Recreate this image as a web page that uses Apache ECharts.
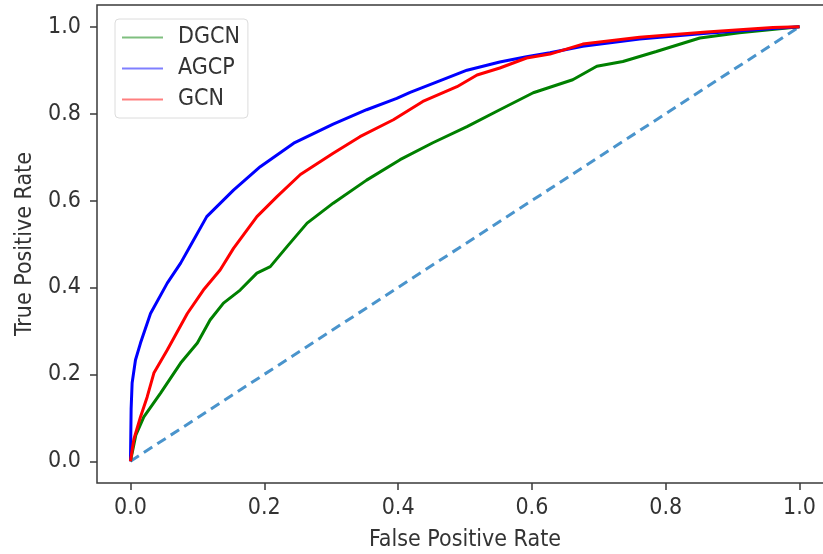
<!DOCTYPE html>
<html>
<head>
<meta charset="utf-8">
<script src="https://cdn.jsdelivr.net/npm/echarts@6/dist/echarts.min.js"></script>
<style>html,body{margin:0;padding:0;background:#fff}#c{width:823px;height:554px}</style>
</head>
<body>
<div id="c"></div>
<script>
const xTicks = [0, 0.2, 0.4, 0.6, 0.8, 1.0];
const yTicks = [0, 0.2, 0.4, 0.6, 0.8, 1.0];
const seriesNames = ['DGCN', 'AGCP', 'GCN'];

const dgcnFpr = [0, 0.008, 0.02, 0.045, 0.075, 0.1, 0.119, 0.139, 0.164, 0.189, 0.209, 0.234, 0.264, 0.303, 0.353, 0.403, 0.452, 0.503, 0.552, 0.602, 0.661, 0.697, 0.736, 0.786, 0.851, 0.91, 1.0];
const dgcnTpr = [0, 0.06, 0.102, 0.157, 0.226, 0.272, 0.325, 0.364, 0.394, 0.433, 0.448, 0.494, 0.548, 0.594, 0.647, 0.694, 0.733, 0.77, 0.809, 0.848, 0.878, 0.909, 0.92, 0.943, 0.974, 0.986, 1.0];

const agcpFpr = [0, 0.001, 0.0025, 0.0075, 0.015, 0.03, 0.055, 0.075, 0.09, 0.114, 0.154, 0.194, 0.244, 0.303, 0.353, 0.398, 0.418, 0.463, 0.503, 0.552, 0.592, 0.627, 0.676, 0.761, 0.861, 0.96, 1.0];
const agcpTpr = [0, 0.12, 0.18, 0.233, 0.272, 0.34, 0.41, 0.456, 0.497, 0.563, 0.624, 0.678, 0.732, 0.776, 0.809, 0.835, 0.849, 0.876, 0.9, 0.919, 0.931, 0.94, 0.955, 0.972, 0.985, 0.996, 1.0];

const gcnFpr = [0, 0.005, 0.015, 0.025, 0.035, 0.055, 0.085, 0.109, 0.134, 0.154, 0.189, 0.219, 0.254, 0.303, 0.343, 0.393, 0.437, 0.488, 0.518, 0.552, 0.592, 0.627, 0.676, 0.761, 0.861, 0.96, 1.0];
const gcnTpr = [0, 0.05, 0.102, 0.148, 0.203, 0.256, 0.34, 0.394, 0.44, 0.49, 0.563, 0.609, 0.66, 0.709, 0.747, 0.786, 0.828, 0.862, 0.889, 0.905, 0.928, 0.937, 0.96, 0.976, 0.988, 0.998, 1.0];

const diagFpr = [0, 1];
const diagTpr = [0, 1];

const zip = (a, b) => a.map((v, i) => [v, b[i]]);
const FONT = '"DejaVu Sans Condensed", "DejaVu Sans", sans-serif';
const TXT = '#333';

const chart = echarts.init(document.getElementById('c'), null, {renderer: 'canvas'});
chart.setOption({
  animation: false,
  backgroundColor: '#fff',
  textStyle: {fontFamily: FONT},
  grid: {left: 97, top: 5, width: 736, height: 478, outerBoundsMode: 'none', containLabel: false,
         show: true, borderColor: '#3a3a3a', borderWidth: 1.5, backgroundColor: 'transparent'},
  legend: {
    orient: 'vertical', left: 115, top: 19,
    icon: 'rect', itemWidth: 41, itemHeight: 2, itemGap: 8,
    padding: [7, 8, 7, 7],
    backgroundColor: '#fff', borderColor: '#dcdcdc', borderWidth: 1, borderRadius: 4,
    textStyle: {fontFamily: FONT, fontSize: 23, color: TXT, padding: [0, 0, 0, 10]},
    data: [
      {name: 'DGCN', itemStyle: {color: 'green', opacity: 0.5}},
      {name: 'AGCP', itemStyle: {color: 'blue', opacity: 0.5}},
      {name: 'GCN', itemStyle: {color: 'red', opacity: 0.5}}
    ]
  },
  xAxis: {
    type: 'value', min: -0.05, max: 1.05,
    name: 'False Positive Rate', nameLocation: 'middle', nameGap: 46,
    nameTextStyle: {fontFamily: FONT, fontSize: 23, color: TXT},
    axisLine: {show: false, onZero: false},
    splitLine: {show: false},
    axisTick: {show: true, customValues: xTicks, length: 7, lineStyle: {color: '#3a3a3a', width: 1.5}},
    axisLabel: {customValues: xTicks, margin: 14, fontFamily: FONT, fontSize: 23, color: TXT, formatter: v => v.toFixed(1)}
  },
  yAxis: {
    type: 'value', min: -0.05, max: 1.05,
    name: 'True Positive Rate', nameLocation: 'middle', nameGap: 60,
    nameTextStyle: {fontFamily: FONT, fontSize: 23, color: TXT},
    axisLine: {show: false, onZero: false},
    splitLine: {show: false},
    axisTick: {show: true, customValues: yTicks, length: 7, lineStyle: {color: '#3a3a3a', width: 1.5}},
    axisLabel: {customValues: yTicks, margin: 16, fontFamily: FONT, fontSize: 23, color: TXT, formatter: v => v.toFixed(1)}
  },
  series: [
    {type: 'line', name: 'diag', data: zip(diagFpr, diagTpr), symbol: 'none', silent: true,
     lineStyle: {color: '#4a94cc', width: 3, type: [10, 6]}},
    {type: 'line', name: seriesNames[0], data: zip(dgcnFpr, dgcnTpr), symbol: 'none', lineStyle: {color: 'green', width: 3}, itemStyle: {color: 'green'}},
    {type: 'line', name: seriesNames[1], data: zip(agcpFpr, agcpTpr), symbol: 'none', lineStyle: {color: 'blue', width: 3}, itemStyle: {color: 'blue'}},
    {type: 'line', name: seriesNames[2], data: zip(gcnFpr, gcnTpr), symbol: 'none', lineStyle: {color: 'red', width: 3}, itemStyle: {color: 'red'}}
  ]
});
</script>
</body>
</html>
